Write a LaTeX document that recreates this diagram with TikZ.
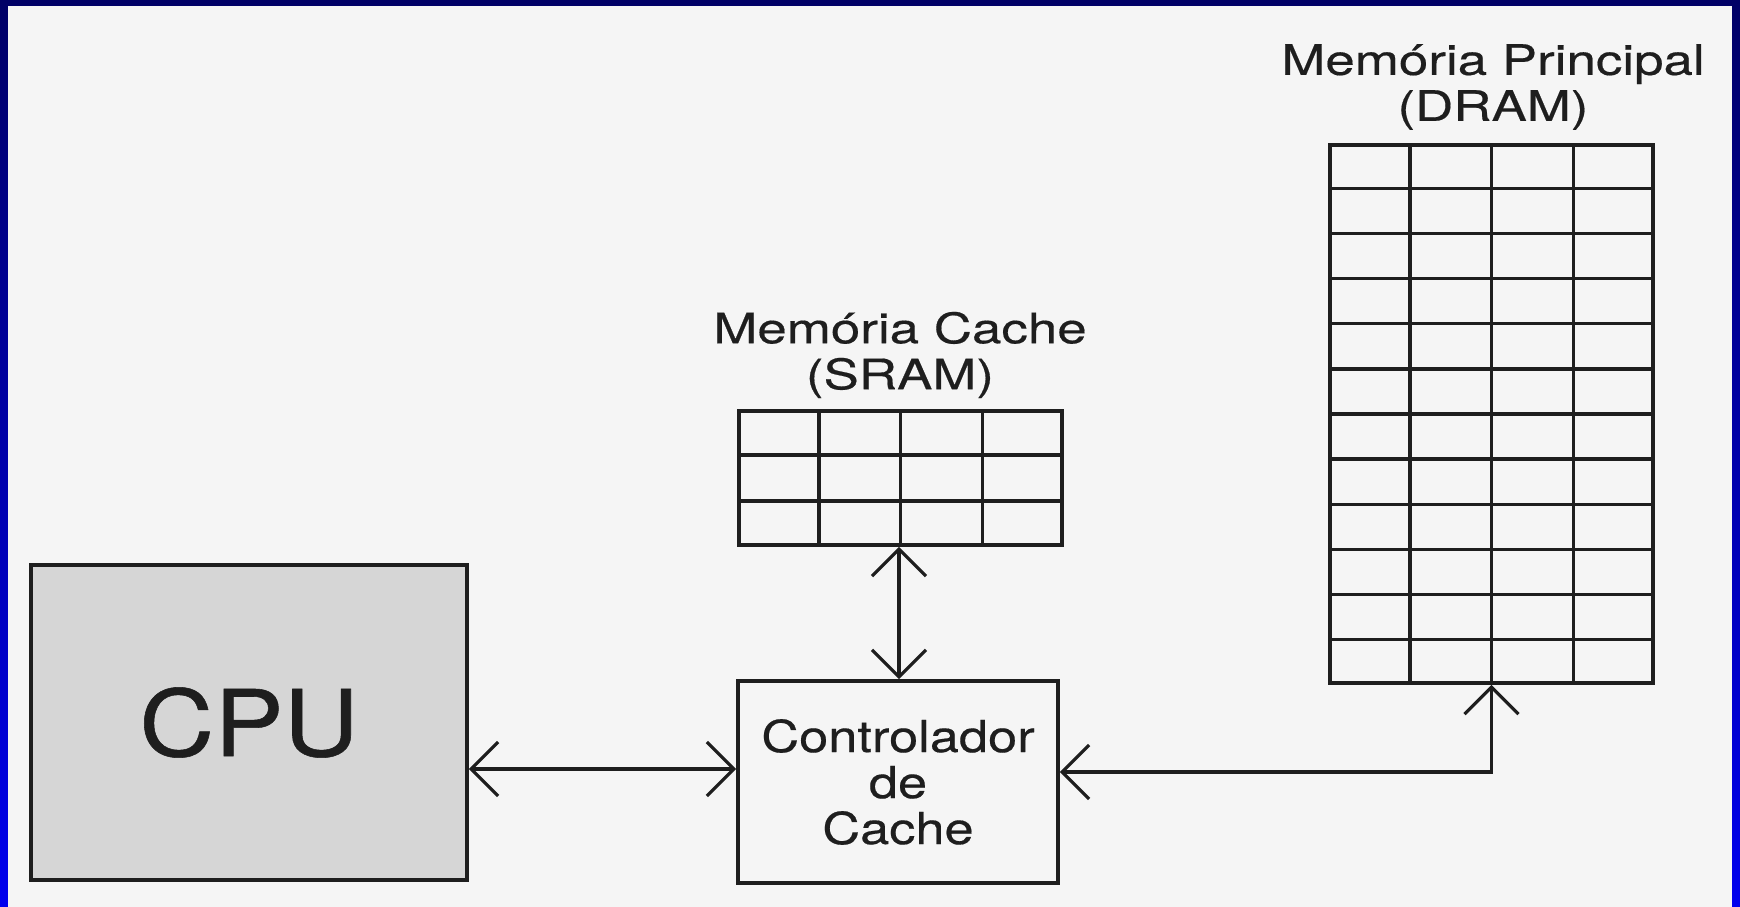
\documentclass[tikz,border=0pt]{standalone}
\usepackage{fontspec}
\usetikzlibrary{arrows.meta,calc}
\newfontfamily\hvT[FakeStretch=1.26,FakeBold=0.4]{TeX Gyre Heros}
\newfontfamily\hvC[FakeStretch=1.19,FakeBold=0.4]{TeX Gyre Heros}
\newfontfamily\hvP[FakeStretch=1.13,FakeBold=0.6]{TeX Gyre Heros}
\definecolor{ink}{HTML}{1E1E1E}
\definecolor{paper}{HTML}{F5F5F5}
\definecolor{cpufill}{HTML}{D6D6D6}
\definecolor{navy}{HTML}{000066}
\definecolor{midblue}{HTML}{0000D0}
\definecolor{bblue}{HTML}{0000EE}
\tikzset{
  box/.style={draw=ink, line width=3.6pt, rectangle, inner sep=0pt},
  gridline/.style={draw=ink, line width=3.3pt},
  title/.style={text=ink, align=center, inner sep=0pt, font={\hvT\fontsize{42}{46}\selectfont}},
  barb/.tip={Straight Barb[length=27pt,width=54pt]},
  biarr/.style={draw=ink, line width=3.3pt, barb-barb}
}
\begin{document}
\begin{tikzpicture}[x=1pt,y=-1pt]
\useasboundingbox (0,0) rectangle (1740,907);
% frame
\shade[top color=navy, middle color=midblue, bottom color=bblue] (0,0) rectangle (1740,907);
\fill[paper] (8,6) rectangle (1732,907);

% CPU
\node[box, fill=cpufill, minimum width=436pt, minimum height=315pt,
      text=ink, font={\hvP\fontsize{92}{92}\selectfont}] (cpu) at (249,722.5) {CPU};

% Cache controller
\node[box, fill=paper, minimum width=320pt, minimum height=202pt, align=center,
      text=ink, font={\hvC\fontsize{44}{46}\selectfont}] (ctrl) at (898,782) {Controlador\\de\\Cache};

% SRAM grid
\node[box, minimum width=323pt, minimum height=134pt] (sram) at (900.5,478) {};
\foreach \i in {1,2,3}
  \draw[gridline] ($(sram.north west)!\i/4!(sram.north east)$) -- ($(sram.south west)!\i/4!(sram.south east)$);
\foreach \j in {1,2}
  \draw[gridline] ($(sram.north west)!\j/3!(sram.south west)$) -- ($(sram.north east)!\j/3!(sram.south east)$);
\node[title] (sramt) at (900,355) {Memória Cache\\(SRAM)};

% DRAM grid
\node[box, minimum width=323pt, minimum height=538pt] (dram) at (1491.5,414) {};
\foreach \i in {1,2,3}
  \draw[gridline] ($(dram.north west)!\i/4!(dram.north east)$) -- ($(dram.south west)!\i/4!(dram.south east)$);
\foreach \j in {1,...,11}
  \draw[gridline] ($(dram.north west)!\j/12!(dram.south west)$) -- ($(dram.north east)!\j/12!(dram.south east)$);
\node[title] (dramt) at (1493,87) {Memória Principal\\(DRAM)};

% connectors
\coordinate (yA) at (0,769);
\coordinate (xB) at (899,0);
\coordinate (yC) at (0,772);
\coordinate (xC) at (1491.5,0);
\draw[biarr] (cpu.east |- yA) -- (ctrl.west |- yA);
\draw[biarr] (sram.south -| xB) -- (ctrl.north -| xB);
\draw[biarr] (ctrl.east |- yC) -| (dram.south -| xC);
\end{tikzpicture}
\end{document}
